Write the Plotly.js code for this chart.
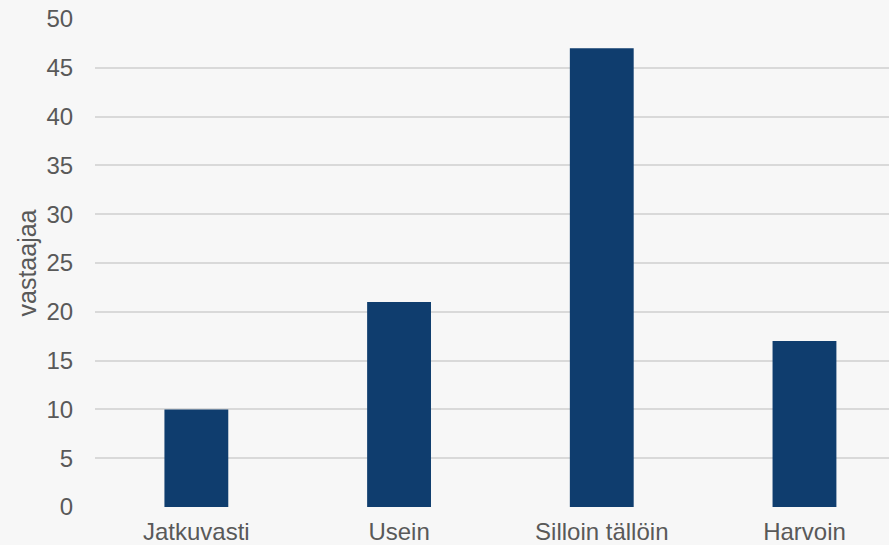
<!DOCTYPE html>
<html><head><meta charset="utf-8">
<script src="https://cdn.plot.ly/plotly-3.0.1.min.js"></script>
<style>html,body{margin:0;padding:0;background:#f7f7f7;}</style>
</head><body>
<div id="chart" style="width:889px;height:545px;"></div>
<script>
const categories = ["Jatkuvasti", "Usein", "Silloin tällöin", "Harvoin"];
const values = [10, 21, 47, 17];
const yTicks = [0, 5, 10, 15, 20, 25, 30, 35, 40, 45, 50];
const yTitle = "vastaajaa";

const font = {family: "Liberation Sans, Arial, sans-serif", size: 24, color: "#595959"};
Plotly.newPlot("chart", [{
  type: "bar",
  x: categories,
  y: values,
  width: 0.315,
  marker: {color: "#0f3d6e"},
  hoverinfo: "x+y"
}], {
  width: 889, height: 545,
  paper_bgcolor: "#f7f7f7", plot_bgcolor: "#f7f7f7",
  margin: {l: 95, r: 0, t: 19, b: 38},
  font: font,
  showlegend: false,
  xaxis: {
    type: "category",
    range: [-0.5, 3.417],
    showgrid: false, zeroline: false, showline: false,
    ticks: "outside", ticklen: 3, tickcolor: "rgba(0,0,0,0)",
    tickfont: font
  },
  yaxis: {
    range: [0, 50],
    tickvals: yTicks,
    showgrid: true, gridcolor: "#d9d9d9", gridwidth: 2,
    zeroline: false, showline: false,
    ticks: "outside", ticklen: 16, tickcolor: "rgba(0,0,0,0)",
    tickfont: font,
    title: {text: yTitle, font: {family: font.family, size: 25, color: font.color}, standoff: 2}
  }
}, {displayModeBar: false, staticPlot: true});
</script>
</body></html>
